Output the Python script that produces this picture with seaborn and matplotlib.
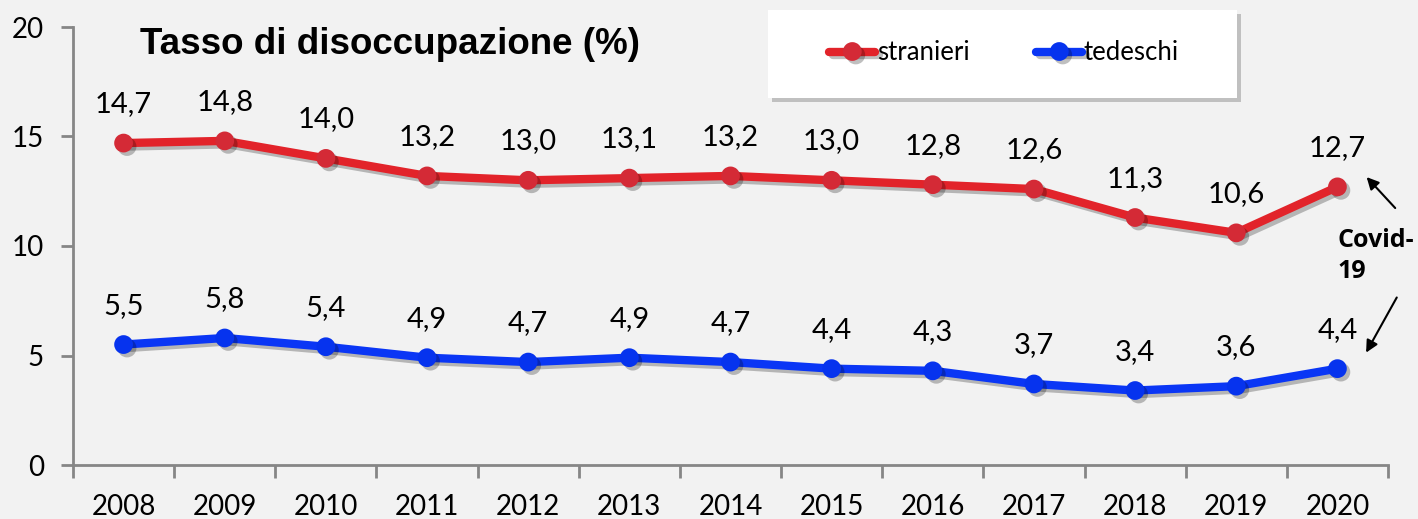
import matplotlib
matplotlib.use("Agg")
import matplotlib.pyplot as plt
import matplotlib.patheffects as pe
from matplotlib.patches import Rectangle
from matplotlib.ticker import FixedLocator
import seaborn as sns
import pandas as pd

years = ["2008", "2009", "2010", "2011", "2012", "2013", "2014",
         "2015", "2016", "2017", "2018", "2019", "2020"]
stranieri = [14.7, 14.8, 14.0, 13.2, 13.0, 13.1, 13.2, 13.0, 12.8, 12.6, 11.3, 10.6, 12.7]
tedeschi = [5.5, 5.8, 5.4, 4.9, 4.7, 4.9, 4.7, 4.4, 4.3, 3.7, 3.4, 3.6, 4.4]
series_names = ["stranieri", "tedeschi"]
title = "Tasso di disoccupazione (%)"
y_ticks = [0, 5, 10, 15, 20]

df = pd.DataFrame({
    "anno": years * 2,
    "valore": stranieri + tedeschi,
    "serie": [series_names[0]] * len(years) + [series_names[1]] * len(years),
})

sns.set_theme(style="white")
plt.rcParams["font.family"] = ["Lato", "DejaVu Sans"]
plt.rcParams["text.color"] = "black"

BG = "#f2f2f2"
GRAY = "#868686"
FS = 20
fig = plt.figure(figsize=(14.18, 5.19), dpi=100, facecolor=BG)
ax = fig.add_axes([73 / 1418, 1 - 465 / 519, (1388 - 73) / 1418, (465 - 27) / 519])
ax.set_facecolor(BG)

line_colors = {"stranieri": "#e2232a", "tedeschi": "#0a36f5"}
sns.pointplot(data=df, x="anno", y="valore", hue="serie", order=years,
              hue_order=series_names, palette=line_colors, markers="o",
              linestyles="-", markersize=9, linewidth=6, ax=ax, legend=False,
              errorbar=None)

shadow = [pe.SimpleLineShadow(offset=(2.5, -2.5), alpha=0.25, shadow_color="black"), pe.Normal()]
marker_cols = {"stranieri": "#d42a36", "tedeschi": "#0633ee"}
for ln, name in zip(ax.lines, series_names):
    ln.set_path_effects(shadow)
    ln.set_markerfacecolor(marker_cols[name])
    ln.set_markeredgecolor(marker_cols[name])
    ln.set_solid_capstyle("round")

# data labels
for vals in (stranieri, tedeschi):
    for i, v in enumerate(vals):
        ax.annotate(f"{v:.1f}".replace(".", ","), xy=(i, v), xytext=(0, 28),
                    textcoords="offset points", ha="center", va="center",
                    fontsize=21, color="black")

ax.set_ylim(0, 20)
ax.set_xlim(-0.5, len(years) - 0.5)
ax.set_yticks(y_ticks)
ax.set_yticklabels([str(t) for t in y_ticks])
ax.set_xlabel("")
ax.set_ylabel("")
ax.xaxis.set_minor_locator(FixedLocator([i - 0.5 for i in range(len(years) + 1)]))
ax.tick_params(axis="x", which="major", bottom=True, length=0, pad=21,
               labelsize=FS, labelcolor="black")
ax.tick_params(axis="x", which="minor", bottom=True, length=9, width=2,
               color=GRAY, direction="out")
ax.tick_params(axis="y", which="major", left=True, length=9, width=2, color=GRAY,
               pad=12, labelsize=FS, labelcolor="black", direction="out")
for s in ("top", "right"):
    ax.spines[s].set_visible(False)
for s in ("left", "bottom"):
    ax.spines[s].set_color(GRAY)
    ax.spines[s].set_linewidth(2)

# title
fig.text(140 / 1418, 1 - 44 / 519, title, fontsize=26.5, fontweight="bold",
         color="black", family=["Liberation Sans", "DejaVu Sans"],
         ha="left", va="center")

# legend box
box = Rectangle((768 / 1418, 1 - 98 / 519), 469 / 1418, 88 / 519,
                transform=fig.transFigure, facecolor="white", edgecolor="none",
                zorder=5)
box.set_path_effects([pe.SimplePatchShadow(offset=(3, -3), alpha=0.3), pe.Normal()])
fig.patches.append(box)
handles = ax.lines[:2]
leg = fig.legend(handles, series_names, loc="center",
                 bbox_to_anchor=(1004 / 1418, 1 - 53 / 519), ncol=2,
                 frameon=False, fontsize=18.5, handlelength=1.8,
                 handletextpad=0.05, columnspacing=2.6)
leg.set_zorder(6)
for t in leg.get_texts():
    t.set_color("black")

# Covid annotation
ax.text(12.0, 9.55, "Covid-\n19", fontsize=18, fontweight="bold",
        family=["Open Sans", "DejaVu Sans"], ha="left", va="center",
        linespacing=1.35, color="black")
ax.annotate("", xy=(12.27, 13.24), xytext=(12.59, 11.64),
            arrowprops=dict(arrowstyle="-|>", color="black", lw=1.5, mutation_scale=18),
            annotation_clip=False)
ax.annotate("", xy=(12.27, 5.02), xytext=(12.6, 7.76),
            arrowprops=dict(arrowstyle="-|>", color="black", lw=1.5, mutation_scale=18),
            annotation_clip=False)

fig.savefig("out.png", dpi=100, facecolor=BG)
